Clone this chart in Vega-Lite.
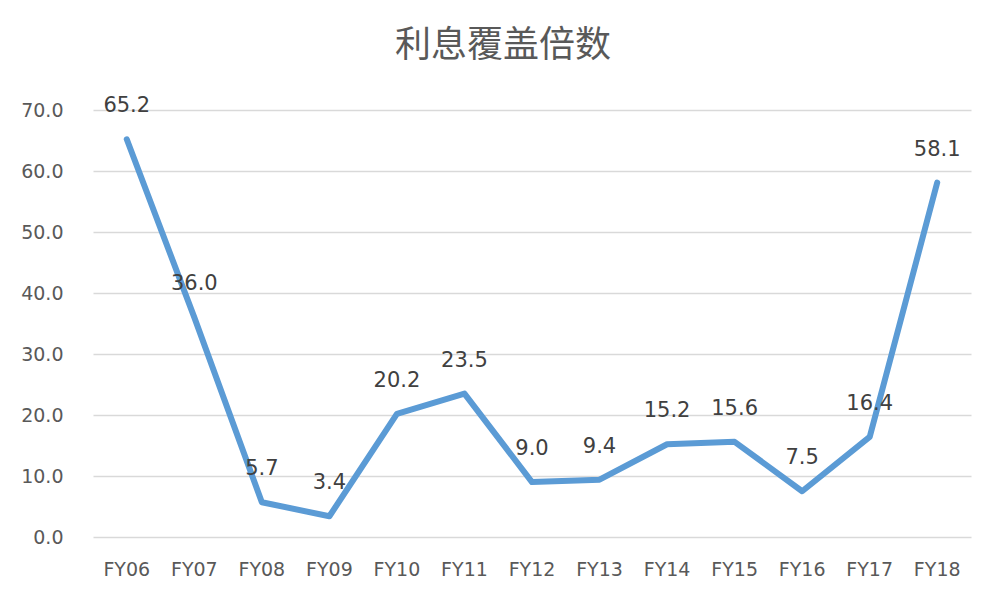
{
  "$schema": "https://vega.github.io/schema/vega-lite/v6.json",
  "width": 878,
  "height": 427,
  "autosize": {"type": "none"},
  "padding": {"left": 93, "top": 110, "right": 31, "bottom": 65},
  "background": "#ffffff",
  "title": {
    "text": "利息覆盖倍数",
    "font": "Noto Sans CJK SC",
    "fontSize": 36,
    "fontWeight": "normal",
    "color": "#595959",
    "anchor": "middle",
    "baseline": "middle",
    "dx": -29,
    "offset": 13
  },
  "config": {
    "view": {"stroke": null},
    "axis": {
      "labelFont": "DejaVu Sans",
      "labelColor": "#595959",
      "gridColor": "#D9D9D9",
      "gridWidth": 1.5,
      "domain": false,
      "ticks": false,
      "title": null
    }
  },
  "data": {
    "values": [
      {"year": "FY06", "ratio": 65.2},
      {"year": "FY07", "ratio": 36.0},
      {"year": "FY08", "ratio": 5.7},
      {"year": "FY09", "ratio": 3.4},
      {"year": "FY10", "ratio": 20.2},
      {"year": "FY11", "ratio": 23.5},
      {"year": "FY12", "ratio": 9.0},
      {"year": "FY13", "ratio": 9.4},
      {"year": "FY14", "ratio": 15.2},
      {"year": "FY15", "ratio": 15.6},
      {"year": "FY16", "ratio": 7.5},
      {"year": "FY17", "ratio": 16.4},
      {"year": "FY18", "ratio": 58.1}
    ]
  },
  "encoding": {
    "x": {
      "field": "year",
      "type": "ordinal",
      "sort": null,
      "scale": {"type": "band", "paddingInner": 0, "paddingOuter": 0},
      "axis": {
        "labelAngle": 0,
        "labelFontSize": 19,
        "labelBaseline": "middle",
        "labelPadding": 32,
        "grid": false
      }
    },
    "y": {
      "field": "ratio",
      "type": "quantitative",
      "scale": {"domain": [0, 70], "nice": false},
      "axis": {
        "values": [0, 10, 20, 30, 40, 50, 60, 70],
        "format": ".1f",
        "labelFontSize": 19,
        "labelPadding": 30,
        "grid": true
      }
    }
  },
  "layer": [
    {
      "mark": {
        "type": "line",
        "color": "#5B9BD5",
        "strokeWidth": 6,
        "strokeJoin": "round",
        "strokeCap": "round"
      }
    },
    {
      "mark": {
        "type": "text",
        "font": "DejaVu Sans",
        "fontSize": 21,
        "color": "#404040",
        "baseline": "middle",
        "dy": -33
      },
      "encoding": {
        "text": {"field": "ratio", "type": "quantitative", "format": ".1f"}
      }
    }
  ]
}
